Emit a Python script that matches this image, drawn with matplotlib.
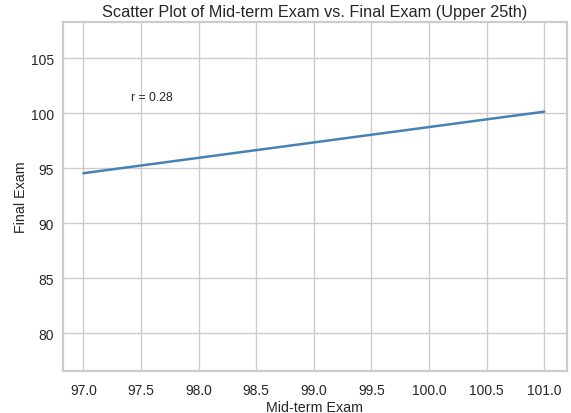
import numpy as np
import matplotlib
matplotlib.use("Agg")
import matplotlib.pyplot as plt
import seaborn as sns

# regression line (endpoints of the fit)
mid_term = [97.0, 101.0]
final_fit = [94.55, 100.15]
r_value = 0.28

x_ticks = [97.0, 97.5, 98.0, 98.5, 99.0, 99.5, 100.0, 100.5, 101.0]
y_ticks = [80, 85, 90, 95, 100, 105]

sns.set_theme(style="whitegrid")
plt.rcParams['font.family'] = ['Liberation Sans', 'DejaVu Sans']

fig, ax = plt.subplots(figsize=(5.71, 4.14), dpi=100)
fig.subplots_adjust(left=0.1098, right=0.9925, top=0.945, bottom=0.1014)

ax.plot(mid_term, final_fit, color='steelblue', linewidth=1.8)
ax.text(97.41, 101.18, f'r = {r_value:.2f}', fontsize=8.8)

ax.set_xlim(96.82, 101.195)
ax.set_ylim(76.55, 108.33)
ax.set_xticks(x_ticks)
ax.set_xticklabels([f'{v:.1f}' for v in x_ticks])
ax.set_yticks(y_ticks)
ax.tick_params(labelsize=10, length=0)
ax.tick_params(axis='x', pad=8.5)
ax.tick_params(axis='y', pad=6.5)

ax.set_title('Scatter Plot of Mid-term Exam vs. Final Exam (Upper 25th)',
             fontsize=11.7, pad=4)
ax.set_xlabel('Mid-term Exam', fontsize=10.3, labelpad=2)
ax.set_ylabel('Final Exam', fontsize=10.3, labelpad=2)

for s in ax.spines.values():
    s.set_color('#cccccc')
    s.set_linewidth(1.6)

plt.savefig("out.png", dpi=100)
plt.close()
